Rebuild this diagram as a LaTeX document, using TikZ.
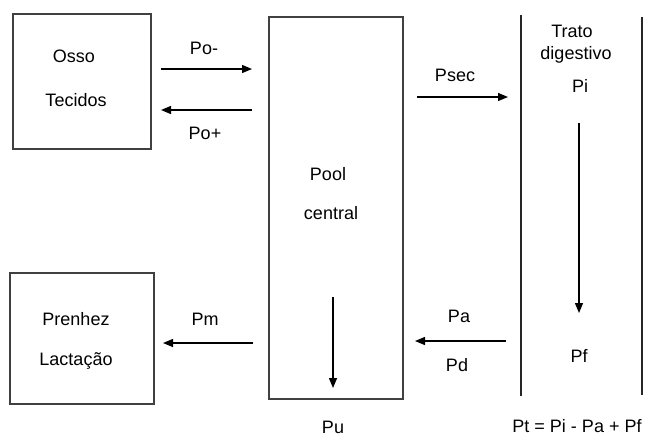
\documentclass[tikz,border=0pt]{standalone}
\usepackage{fontspec}
\setmainfont{Liberation Sans}
\usetikzlibrary{arrows.meta}
\begin{document}
\begin{tikzpicture}[x=1pt,y=-1pt,inner sep=0pt,outer sep=0pt,
font=\fontsize{18}{21}\selectfont,
compbox/.style={draw=black!75,line width=1.5pt,rectangle},
txt/.style={text height=12.9pt,text depth=0pt},
flow/.style={-{Triangle[length=10pt,width=8pt]},line width=1.3pt},
tract/.style={line width=1.3pt,draw=black!85}]
\useasboundingbox (0,0) rectangle (647,437);
% compartimentos
\draw (82,81.5) node[compbox,minimum width=138pt,minimum height=135pt] (osso) {};
\draw (336,208) node[compbox,minimum width=134pt,minimum height=382pt] (pool) {};
\draw (82,338.5) node[compbox,minimum width=144pt,minimum height=131pt] (prenhez) {};
\draw (74,56) node[txt] (ossoT) {Osso};
\draw (76,100) node[txt] (tecidosT) {Tecidos};
\draw (76,319) node[txt] (prenhezT) {Prenhez};
\draw (76,359.5) node[txt] (lactT) {Lactação};
\draw (328,174) node[txt] (poolT) {Pool};
\draw (331,213) node[txt] (centralT) {central};
% trato digestivo
\coordinate (tdA) at (521,15);
\coordinate (tdB) at (521,396);
\coordinate (tdC) at (642,17);
\coordinate (tdD) at (642,395);
\draw[tract] (tdA) -- (tdB);
\draw[tract] (tdC) -- (tdD);
\draw (572,31) node[txt] (tratoT) {Trato};
\draw (576,53) node[txt] (digT) {digestivo};
\draw (580,86.5) node[txt] (piT) {Pi};
\draw (579,356) node[txt] (pfT) {Pf};
% fluxos
\coordinate (poA) at (161,69);
\coordinate (poB) at (252,69);
\coordinate (ppA) at (252,110);
\coordinate (ppB) at (161,110);
\coordinate (psA) at (417,97);
\coordinate (psB) at (508,97);
\coordinate (piA) at (579,123);
\coordinate (piB) at (579,313);
\coordinate (paA) at (506,341);
\coordinate (paB) at (415,341);
\coordinate (pmA) at (253,343);
\coordinate (pmB) at (163,343);
\coordinate (puA) at (333,297);
\coordinate (puB) at (333,388);
\draw[flow] (poA) -- (poB);
\draw[flow] (ppA) -- (ppB);
\draw[flow] (psA) -- (psB);
\draw[flow] (piA) -- (piB);
\draw[flow] (paA) -- (paB);
\draw[flow] (pmA) -- (pmB);
\draw[flow] (puA) -- (puB);
\draw (204,48) node[txt] (poMinus) {Po-};
\draw (205,133) node[txt] (poPlus) {Po+};
\draw (455,75.5) node[txt] (psecT) {Psec};
\draw (459,316) node[txt] (paT) {Pa};
\draw (457,365) node[txt] (pdT) {Pd};
\draw (205,319) node[txt] (pmT) {Pm};
\draw (333,427) node[txt] (puT) {Pu};
\draw (577,426) node[txt] (ptT) {Pt = Pi - Pa + Pf};
\end{tikzpicture}
\end{document}
